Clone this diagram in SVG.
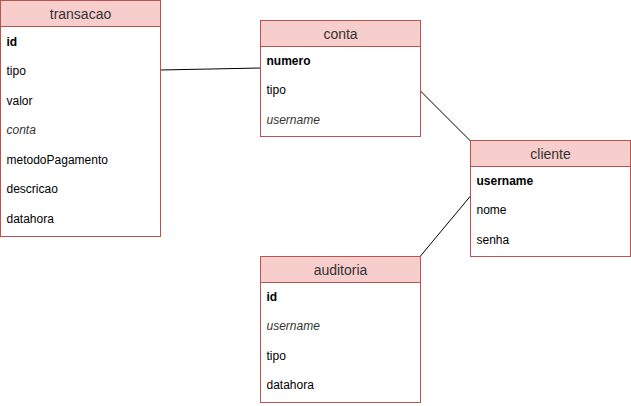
<svg xmlns="http://www.w3.org/2000/svg" width="631" height="406" viewBox="0 0 631 406">
<style>
.box{fill:#ffffff;stroke:#b85450;stroke-width:1}
.hdr{fill:#f8cecc;stroke:#b85450;stroke-width:1}
.ttl{font-family:"Liberation Sans",Arial,sans-serif;font-size:14px;fill:#333333;text-anchor:middle}
.row{font-family:"Liberation Sans",Arial,sans-serif;font-size:12px;fill:#000000}
.b{font-weight:bold}
.i{font-style:italic;fill:#333333}
.edge{stroke:#000000;stroke-width:1;fill:none}
</style>
<rect width="631" height="406" fill="#ffffff"/>
<g id="connectors">
<line class="edge" x1="160.5" y1="70" x2="260.5" y2="68"/>
<line class="edge" x1="420.5" y1="91" x2="470.5" y2="141"/>
<line class="edge" x1="470.5" y1="196" x2="420.5" y2="256"/>
</g>
<g id="transacao">
<rect class="box" x="0.5" y="0.5" width="160" height="236"/>
<rect class="hdr" x="0.5" y="0.5" width="160" height="26"/>
<text class="ttl" x="80.5" y="18.5">transacao</text>
<text class="row b" x="6.5" y="45.5">id</text>
<text class="row" x="6.5" y="75">tipo</text>
<text class="row" x="6.5" y="104.5">valor</text>
<text class="row i" x="6.5" y="134">conta</text>
<text class="row" x="6.5" y="163.5">metodoPagamento</text>
<text class="row" x="6.5" y="193">descricao</text>
<text class="row" x="6.5" y="222.5">datahora</text>
</g>
<g id="conta">
<rect class="box" x="260.5" y="20.5" width="160" height="116"/>
<rect class="hdr" x="260.5" y="20.5" width="160" height="26"/>
<text class="ttl" x="340.5" y="38.5">conta</text>
<text class="row b" x="266.5" y="64.5">numero</text>
<text class="row" x="266.5" y="94">tipo</text>
<text class="row i" x="266.5" y="123.5">username</text>
</g>
<g id="cliente">
<rect class="box" x="470.5" y="140.5" width="160" height="116"/>
<rect class="hdr" x="470.5" y="140.5" width="160" height="26"/>
<text class="ttl" x="550.5" y="158.5">cliente</text>
<text class="row b" x="476.5" y="184.5">username</text>
<text class="row" x="476.5" y="214">nome</text>
<text class="row" x="476.5" y="243.5">senha</text>
</g>
<g id="auditoria">
<rect class="box" x="260.5" y="256.5" width="160" height="146"/>
<rect class="hdr" x="260.5" y="256.5" width="160" height="26"/>
<text class="ttl" x="340.5" y="274.5">auditoria</text>
<text class="row b" x="266.5" y="300.5">id</text>
<text class="row i" x="266.5" y="330">username</text>
<text class="row" x="266.5" y="359.5">tipo</text>
<text class="row" x="266.5" y="389">datahora</text>
</g>
</svg>
